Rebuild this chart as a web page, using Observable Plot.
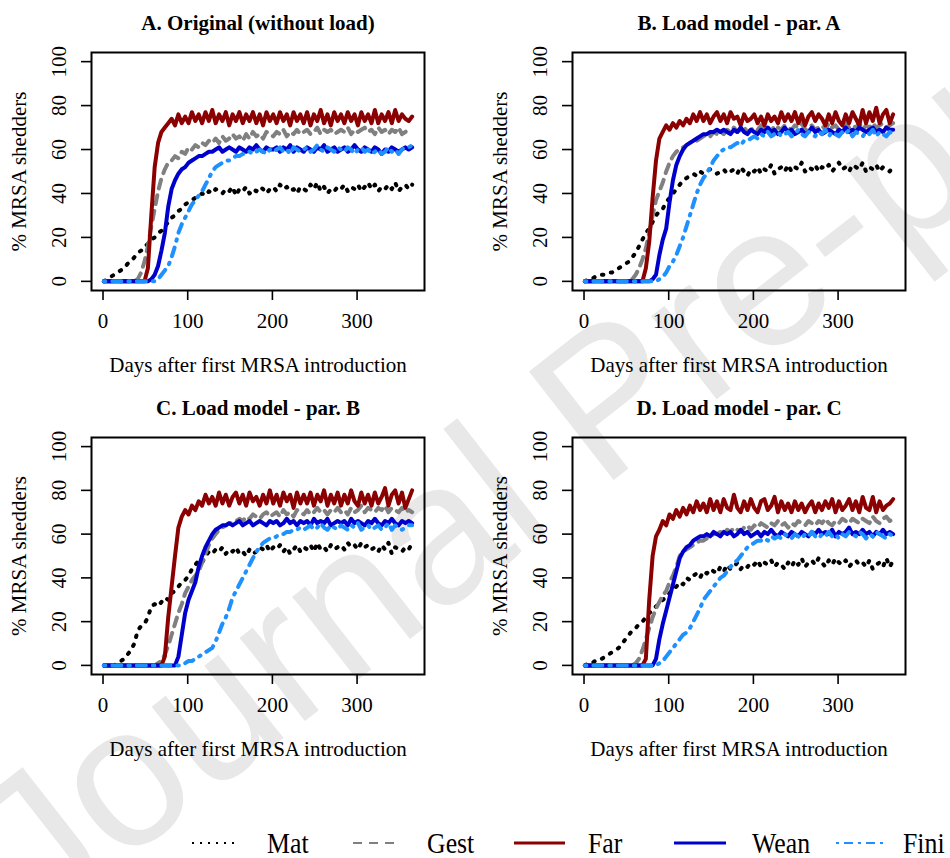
<!DOCTYPE html>
<html><head><meta charset="utf-8">
<script src="https://cdn.jsdelivr.net/npm/d3@7"></script>
<script src="https://cdn.jsdelivr.net/npm/@observablehq/plot@0.6"></script>
<style>
body{margin:0;background:#fff;}
#root{position:relative;width:950px;height:858px;overflow:hidden;background:#fff;font-family:"Liberation Serif","Times New Roman",serif;}
.panel{position:absolute;}
#wm,#legend{position:absolute;left:0;}
</style></head><body><div id="root"></div>
<script>
// ---------- data ----------
const days = [1,5,9,13,17,21,25,29,33,37,41,45,49,53,57,61,65,69,73,77,81,85,89,93,97,101,105,109,113,117,121,125,129,133,137,141,145,149,153,157,161,165,169,173,177,181,185,189,193,197,201,205,209,213,217,221,225,229,233,237,241,245,249,253,257,261,265,269,273,277,281,285,289,293,297,301,305,309,313,317,321,325,329,333,337,341,345,349,353,357,361,365];
const seriesNames = ["Mat","Gest","Far","Wean","Fini"];
const panelTitles = ["A. Original (without load)","B. Load model - par. A","C. Load model - par. B","D. Load model - par. C"];
const xTicks = [0,100,200,300];
const yTicks = [0,20,40,60,80,100];
const xLabel = "Days after first MRSA introduction";
const yLabel = "% MRSA shedders";
const watermark = "Journal Pre-proof";

// Panel A
const matA = [0,1,2,3,4,5,6,8,9,11, 13,14,16,17,19,20,22,23,25,27, 29,30,32,33,35,36,37,38,39,40, 39,41,40,42,41,40,42,41,43,39, 42,41,43,40,42,41,43,42,40,42, 43,41,44,42,43,41,42,40,43,42, 41,44,42,45,41,43,40,42,41,43, 42,44,41,43,42,44,41,43,45,42, 44,41,43,42,44,42,45,41,43,44, 42,44];
const gestA = [0,0,0,0,0,0,0,0,0,0, 1,4,9,16,25,33,41,47,51,54, 55,57,56,59,58,61,60,62,61,63, 62,64,63,65,63,66,64,65,67,65, 66,64,67,65,68,66,67,65,68,67, 66,68,67,69,66,68,67,69,67,68, 69,67,68,70,67,69,68,69,67,68, 69,68,70,67,69,68,69,70,68,69, 67,70,68,69,67,69,68,70,67,68, 69,69];
const farA = [0,0,0,0,0,0,0,0,0,0, 0,0,0,6,30,52,63,68,70,72, 74,71,76,72,75,72,77,73,76,72, 77,73,78,72,76,73,77,71,76,73, 77,72,76,73,77,72,76,71,77,73, 76,72,77,73,76,71,77,73,76,72, 77,71,76,73,78,72,76,71,77,73, 76,72,77,73,76,71,77,73,76,72, 78,72,76,73,77,72,78,73,76,74, 73,75];
const weanA = [0,0,0,0,0,0,0,0,0,0, 0,0,0,0,1,3,7,14,22,34, 42,46,49,51,52,54,55,56,57,57, 58,59,59,60,61,59,60,61,60,59, 61,60,59,61,60,62,60,59,61,60, 60,61,59,61,60,62,59,61,60,59, 61,60,59,61,60,62,59,60,61,59, 60,61,59,60,62,60,59,61,60,59, 61,60,58,60,59,61,60,59,60,61, 60,61];
const finiA = [0,0,0,0,0,0,0,0,0,0, 0,0,0,0,0,0,1,3,5,7, 11,16,22,26,29,32,35,37,39,41, 44,47,50,52,53,54,55,55,56,57, 57,58,58,59,58,59,60,59,58,60, 59,60,61,59,60,58,61,60,59,60, 61,59,60,62,60,59,61,60,59,61, 60,59,61,60,58,60,61,59,60,58, 59,60,58,59,61,59,60,58,60,61, 61,62];

// Panel B
const matB = [0,1,1,2,2,3,3,4,4,5, 6,7,8,9,11,13,16,19,22,24, 27,30,32,33,36,38,40,42,44,46, 47,48,49,48,50,49,50,51,50,49, 50,51,49,50,51,49,52,50,48,51, 50,52,49,51,50,53,49,51,52,50, 53,50,52,51,54,50,52,51,53,50, 52,51,53,50,52,54,51,52,50,53, 52,51,54,50,52,51,53,50,52,51, 50,53];
const gestB = [0,0,0,0,0,0,0,0,0,0, 0,0,0,0,1,3,6,10,15,22, 30,37,41,45,50,54,57,59,60,61, 62,63,64,64,65,66,67,66,68,67, 68,67,69,68,70,68,69,70,68,69, 70,69,71,69,70,68,71,70,69,71, 70,69,71,70,72,69,70,71,69,70, 71,69,72,70,71,69,70,72,70,71, 70,72,69,71,70,72,70,71,72,70, 71,72];
const farB = [0,0,0,0,0,0,0,0,0,0, 0,0,0,0,0,0,0,0,6,18, 38,55,65,68,71,69,72,70,73,71, 74,72,76,73,77,73,76,72,75,77, 73,76,72,77,74,75,71,76,73,74, 76,72,75,71,76,73,75,72,77,73, 76,73,77,72,76,71,75,77,73,76, 74,71,76,72,77,73,71,76,72,77, 74,71,78,72,77,73,79,72,76,78, 72,76];
const weanB = [0,0,0,0,0,0,0,0,0,0, 0,0,0,0,0,0,0,0,0,0, 1,3,12,19,24,36,46,53,57,60, 62,63,64,65,66,67,67,68,68,69, 68,69,68,67,69,68,70,68,67,69, 68,67,69,68,70,68,69,67,68,70, 68,69,67,68,69,67,68,70,68,69, 67,68,69,68,67,69,68,70,68,69, 68,70,69,68,69,70,68,69,68,70, 69,69];
const finiB = [0,0,0,0,0,0,0,0,0,0, 0,0,0,0,0,0,0,0,0,0, 0,0,1,2,4,7,9,12,16,20, 25,30,35,40,44,47,49,52,55,57, 59,60,61,61,62,63,62,64,64,65, 66,65,67,66,68,66,67,68,66,67, 68,66,67,69,67,66,68,67,66,68, 67,69,66,68,67,66,68,67,69,66, 68,67,66,68,67,69,66,68,67,66, 68,67];

// Panel C
const matC = [0,0,0,0,1,2,3,5,7,10, 16,18,19,22,27,28,27,29,31,30, 33,34,36,38,39,41,44,46,48,47, 50,52,51,53,52,54,51,53,52,54, 51,52,50,53,51,52,54,53,55,52, 54,53,55,52,54,51,53,55,52,54, 53,55,52,56,53,54,52,55,53,54, 55,53,56,54,55,53,56,54,55,53, 54,52,55,53,56,51,54,53,52,54, 53,56];
const gestC = [0,0,0,0,0,0,0,0,0,0, 0,0,0,0,0,0,1,2,5,9, 14,19,24,28,33,36,39,41,43,47, 51,55,58,60,62,63,64,65,65,66, 67,66,68,67,69,68,67,69,70,68, 69,70,68,71,69,70,68,71,70,69, 71,69,70,72,70,71,69,71,70,72, 70,71,69,72,70,71,73,70,72,71, 70,72,71,73,70,72,71,70,72,70, 71,70];
const farC = [0,0,0,0,0,0,0,0,0,0, 0,0,0,0,0,0,0,0,4,22, 36,50,63,68,71,69,73,71,75,73, 78,74,77,73,79,74,78,73,77,79, 74,78,73,79,75,77,73,78,74,80, 74,78,73,79,75,78,72,79,74,78, 74,79,73,78,75,80,73,78,74,79, 73,78,74,80,75,73,79,74,78,73, 79,74,77,81,73,78,80,74,79,72, 76,80];
const weanC = [0,0,0,0,0,0,0,0,0,0, 0,0,0,0,0,0,0,0,0,0, 0,0,4,14,24,30,34,38,45,50, 54,57,60,62,63,64,64,65,64,65, 66,64,65,66,64,65,66,65,64,66, 65,66,64,65,67,65,66,64,66,65, 66,64,67,65,66,65,67,64,65,66, 65,66,64,67,65,66,65,64,66,65, 67,65,64,66,65,67,65,64,66,65, 66,65];
const finiC = [0,0,0,0,0,0,0,0,0,0, 0,0,0,0,0,0,0,0,0,0, 0,0,0,0,1,2,2,3,4,5, 6,7,8,11,15,19,22,26,31,34, 37,40,43,46,49,52,54,56,57,58, 58,59,60,60,61,61,62,62,63,62, 63,64,62,63,65,63,62,64,63,62, 64,63,62,64,63,65,62,63,64,62, 63,64,62,63,65,62,64,63,62,63, 64,64];

// Panel D
const matD = [0,1,1,2,2,3,4,5,6,7, 8,10,12,14,16,17,19,20,22,24, 25,27,28,30,31,33,35,36,38,37, 40,39,41,42,40,43,42,44,43,42, 45,43,46,44,45,47,44,46,45,47, 46,48,45,47,46,48,45,47,46,44, 47,45,48,46,49,45,47,48,46,49, 47,45,48,46,49,47,46,48,45,47, 48,46,47,45,48,44,46,47,45,49, 45,48];
const gestD = [0,0,0,0,0,0,0,0,0,0, 0,0,0,0,0,1,3,7,12,17, 22,26,29,32,34,38,41,45,50,52, 53,54,55,56,57,57,58,59,60,60, 61,60,62,61,63,62,61,63,64,62, 64,63,65,64,63,65,64,66,64,65, 63,65,64,66,65,64,66,65,64,66, 65,67,65,64,66,65,67,66,65,67, 66,65,67,66,65,68,66,65,67,68, 66,67];
const farD = [0,0,0,0,0,0,0,0,0,0, 0,0,0,0,0,0,0,0,3,30, 50,59,62,66,64,69,67,71,68,72, 69,73,70,75,71,74,70,76,71,75, 70,76,72,71,78,72,70,75,71,76, 72,70,75,76,71,73,77,70,75,71, 74,70,75,71,74,70,73,75,70,74, 71,75,72,76,70,75,71,73,76,71, 75,70,77,72,71,77,70,75,71,73, 74,76];
const weanD = [0,0,0,0,0,0,0,0,0,0, 0,0,0,0,0,0,0,0,0,0, 0,3,12,19,25,31,37,43,49,52, 54,55,57,58,59,59,60,59,61,60, 59,61,60,61,59,60,62,60,61,59, 60,61,59,61,60,62,60,59,61,60, 59,61,60,59,61,60,59,61,60,62, 60,61,60,62,59,61,60,61,63,60, 61,60,62,60,61,59,61,60,62,60, 61,60];
const finiD = [0,0,0,0,0,0,0,0,0,0, 0,0,0,0,0,0,0,0,0,0, 0,0,1,2,4,6,8,10,12,14, 15,17,20,23,26,30,32,34,36,38, 40,41,43,45,47,48,50,52,54,55, 56,57,57,58,57,59,58,59,58,60, 59,58,60,59,58,60,59,61,59,58, 60,59,61,59,60,58,60,59,61,60, 59,61,60,58,60,59,61,60,59,58, 60,59];

// ---------- styles ----------
const seriesColors = ["#000000","#808080","#8B0000","#0000CD","#1E90FF"];
const seriesDash = ["1.5,8","9,7",null,null,"1.5,7,9,7"];
const seriesWidth = [4, 4, 4, 4, 4];
const panelData = [
  [matA,gestA,farA,weanA,finiA],
  [matB,gestB,farB,weanB,finiB],
  [matC,gestC,farC,weanC,finiC],
  [matD,gestD,farD,weanD,finiD]
];
const panelBoxes = [
  {left:0,   top:0,   ml:91, mr:51, mt:52, mb:100},
  {left:475, top:0,   ml:97, mr:45, mt:52, mb:100},
  {left:0,   top:390, ml:91, mr:51, mt:47, mb:106},
  {left:475, top:390, ml:97, mr:45, mt:47, mb:106}
];

const root = document.getElementById("root");

// watermark (behind the charts)
const NS = "http://www.w3.org/2000/svg";
const wm = document.createElementNS(NS,"svg");
wm.setAttribute("id","wm"); wm.setAttribute("width",950); wm.setAttribute("height",858);
wm.style.top = "0px";
const wt = document.createElementNS(NS,"text");
wt.setAttribute("transform","translate(40,928) rotate(-38)");
wt.setAttribute("font-family","Liberation Sans, Arial, sans-serif");
wt.setAttribute("font-size","200");
wt.setAttribute("fill","#e8e8e8");
wt.textContent = watermark;
wm.appendChild(wt);
root.appendChild(wm);

panelData.forEach((arrs, p) => {
  const b = panelBoxes[p];
  const lines = arrs.map((arr, s) => {
    const rows = days.map((d, i) => ({day: d, value: arr[i]}));
    return Plot.line(rows, {
      x: "day", y: "value",
      stroke: seriesColors[s],
      strokeWidth: seriesWidth[s],
      strokeDasharray: seriesDash[s] || undefined,
      strokeLinecap: "round", strokeLinejoin: "round"
    });
  });
  const chart = Plot.plot({
    width: 475, height: 390,
    marginLeft: b.ml, marginRight: b.mr, marginTop: b.mt, marginBottom: b.mb,
    x: {domain: [-13.6, 379.6]},
    y: {domain: [-4.16, 104.16]},
    style: {fontFamily: "'Liberation Serif','Times New Roman',serif", fontSize: "21px", background: "transparent", color: "black", overflow: "visible"},
    marks: [
      ...lines,
      Plot.frame({stroke: "black", strokeWidth: 2}),
      Plot.axisX({ticks: xTicks, tickSize: 10, tickPadding: 13, label: null, stroke: "black", strokeWidth: 1.6}),
      Plot.axisY({ticks: yTicks, tickSize: 10, tickPadding: 16, tickRotate: -90, label: null, stroke: "black", strokeWidth: 1.6}),
      Plot.text([panelTitles[p]], {frameAnchor: "top", dy: -23, lineAnchor: "bottom", textAnchor: "middle", fontWeight: "bold"}),
      Plot.text([xLabel], {frameAnchor: "bottom", dy: 81, lineAnchor: "bottom", textAnchor: "middle"}),
      Plot.text([yLabel], {frameAnchor: "left", dx: -66, rotate: -90, lineAnchor: "bottom", textAnchor: "middle"})
    ]
  });
  chart.classList.add("panel");
  chart.style.left = b.left + "px";
  chart.style.top = b.top + "px";
  root.appendChild(chart);
});

// legend
const lg = document.createElementNS(NS,"svg");
lg.setAttribute("id","legend"); lg.setAttribute("width",950); lg.setAttribute("height",78);
lg.style.top = "780px";
const legendPos = [[192,239,267],[353,398,427],[514,565,588],[674,726,752],[836,886,903]];
seriesNames.forEach((name, s) => {
  const [x1,x2,tx] = legendPos[s];
  const ln = document.createElementNS(NS,"line");
  ln.setAttribute("x1",x1); ln.setAttribute("x2",x2);
  ln.setAttribute("y1",63); ln.setAttribute("y2",63);
  ln.setAttribute("stroke",seriesColors[s]);
  ln.setAttribute("stroke-width", s < 2 || s === 4 ? 2.2 : 3);
  if (seriesDash[s]) ln.setAttribute("stroke-dasharray", s===0 ? "2,6" : s===1 ? "9,7" : "3,5,9,5");
  lg.appendChild(ln);
  const t = document.createElementNS(NS,"text");
  t.setAttribute("transform",`translate(${tx},73) scale(0.86,1)`);
  t.setAttribute("font-family","Liberation Serif, Times New Roman, serif");
  t.setAttribute("font-size","30");
  t.textContent = name;
  lg.appendChild(t);
});
root.appendChild(lg);
</script></body></html>
